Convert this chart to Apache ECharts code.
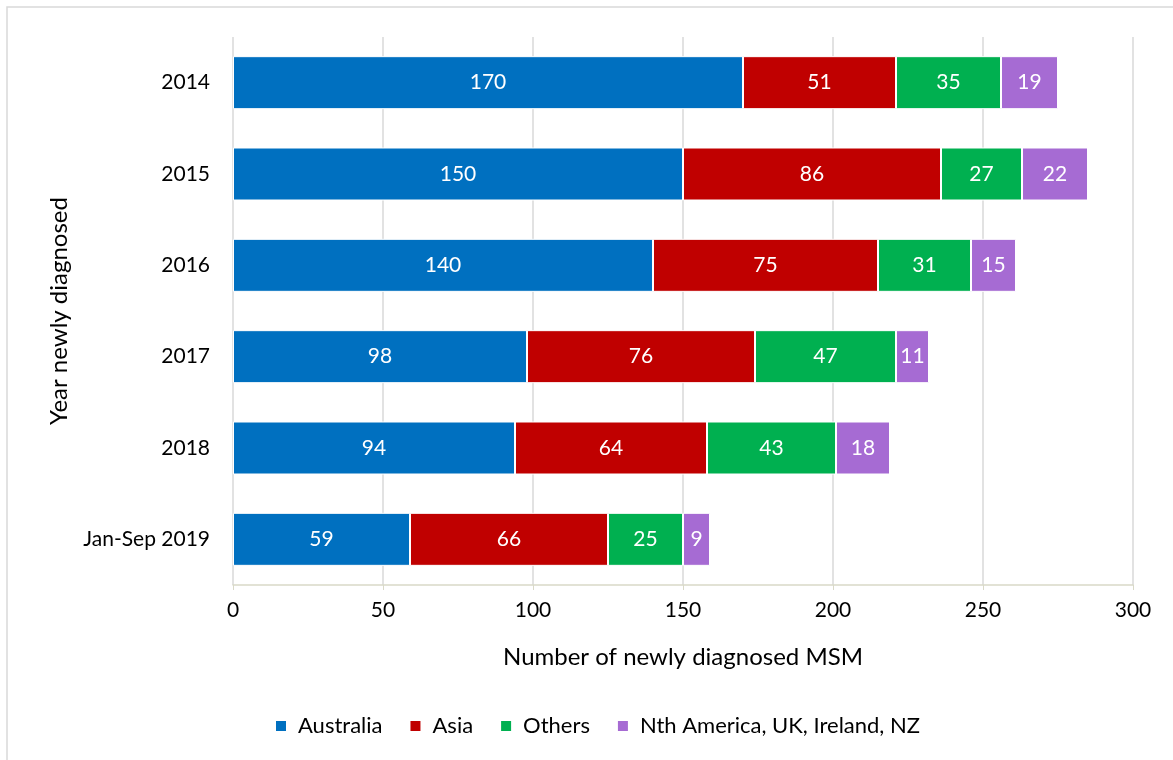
<!DOCTYPE html>
<html><head><meta charset="utf-8">
<script src="https://cdn.jsdelivr.net/npm/echarts@6/dist/echarts.min.js"></script>
<style>html,body{margin:0;padding:0;background:#fff}#c{width:1173px;height:760px}</style>
</head><body><div id="c"></div>
<script>
const categories = ['2014','2015','2016','2017','2018','Jan-Sep 2019'];
const australia = [170,150,140,98,94,59];
const asia = [51,86,75,76,64,66];
const others = [35,27,31,47,43,25];
const nthAmerica = [19,22,15,11,18,9];
const seriesNames = ['Australia','Asia','Others','Nth America, UK, Ireland, NZ'];
const colors = ['#0070C0','#C00000','#00B050','#A66BD3'];
const FONT = 'Lato, "Open Sans", sans-serif';
const chart = echarts.init(document.getElementById('c'));
const data = [australia, asia, others, nthAmerica];
chart.setOption({
  animation:false,
  textStyle:{fontFamily:FONT},
  graphic:[{type:'rect',shape:{x:7,y:7,width:1180,height:770},style:{fill:'none',stroke:'#D9D9D9',lineWidth:1.5},silent:true}],
  grid:{left:233,right:40,top:37,bottom:175,containLabel:false},
  legend:{bottom:23,left:274,itemWidth:12,itemHeight:12,itemGap:26,icon:'rect',padding:0,
    textStyle:{fontFamily:FONT,fontSize:22,color:'#000',padding:[0,0,0,6]},data:seriesNames},
  xAxis:{type:'value',min:0,max:300,interval:50,
    name:'Number of newly diagnosed MSM',nameLocation:'middle',nameGap:60,
    nameTextStyle:{fontFamily:FONT,fontSize:24,color:'#000'},
    axisLine:{show:true,lineStyle:{color:'#D9D9C8',width:1.5}},
    axisTick:{show:true,length:5,lineStyle:{color:'#D9D9C8'}},
    axisLabel:{fontFamily:FONT,fontSize:21,color:'#000',margin:15},
    splitLine:{show:true,lineStyle:{color:'#D9D9D9',width:1.5}}},
  yAxis:{type:'category',data:categories,inverse:true,
    name:'Year newly diagnosed',nameLocation:'middle',nameGap:162,
    nameTextStyle:{fontFamily:FONT,fontSize:24,color:'#000'},
    axisLine:{show:false},axisTick:{show:false},
    axisLabel:{fontFamily:FONT,fontSize:21,color:'#000',margin:23}},
  series:data.map((d,i)=>({
    name:seriesNames[i],type:'bar',stack:'t',data:d,barWidth:53,
    itemStyle:{color:colors[i],borderColor:'#fff',borderWidth:1},
    label:{show:true,position:'inside',color:'#fff',fontFamily:FONT,fontSize:21}
  }))
});
</script></body></html>
